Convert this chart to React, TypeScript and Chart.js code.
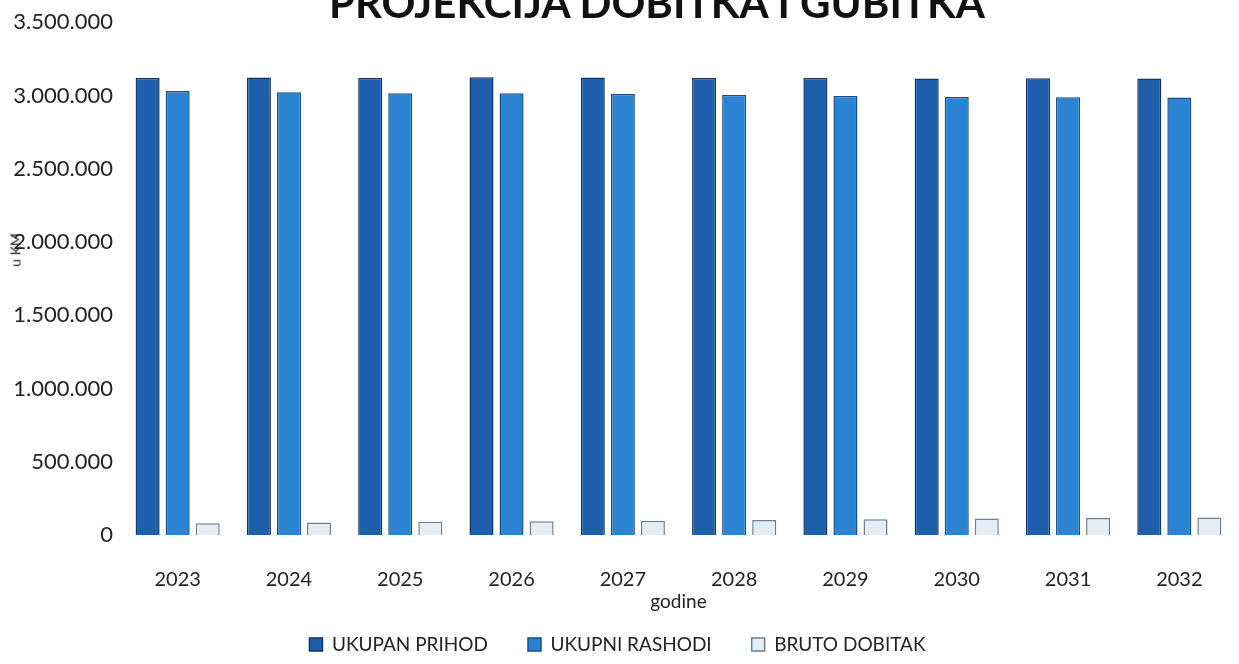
import React, { useEffect, useRef } from "react";
import { Chart, registerables } from "chart.js";

Chart.register(...registerables);

const chartTitle = "PROJEKCIJA DOBITKA I GUBITKA";
const yAxisTitle = "u KM";
const xAxisTitle = "godine";
const years = ["2023", "2024", "2025", "2026", "2027", "2028", "2029", "2030", "2031", "2032"];
const seriesNames = ["UKUPAN PRIHOD", "UKUPNI RASHODI", "BRUTO DOBITAK"];
const ukupanPrihod = [3120000, 3122000, 3120000, 3125000, 3122000, 3120000, 3119000, 3115000, 3117000, 3116000];
const ukupniRashodi = [3030000, 3022000, 3015000, 3015000, 3010000, 3003000, 2996000, 2990000, 2988000, 2986000];
const brutoDobitak = [80000, 85000, 90000, 94000, 98000, 103000, 108000, 112000, 116000, 120000];
const yMax = 3500000;
const yStep = 500000;

function formatThousands(v: number): string {
  return String(Math.round(v)).replace(/\B(?=(\d{3})+(?!\d))/g, ".");
}

export default function App() {
  const canvasRef = useRef<HTMLCanvasElement | null>(null);

  useEffect(() => {
    let chart: Chart | null = null;
    let cancelled = false;
    const make = () => {
      if (cancelled || !canvasRef.current) return;
      chart = new Chart(canvasRef.current, {
        type: "bar",
        data: {
          labels: years,
          datasets: [
            {
              label: seriesNames[0],
              data: ukupanPrihod,
              backgroundColor: "#1f5fab",
              borderColor: "#0d3566",
              borderWidth: 1.5,
            },
            {
              label: seriesNames[1],
              data: ukupniRashodi,
              backgroundColor: "#2a84d3",
              borderColor: "#154f8e",
              borderWidth: 1.5,
            },
            {
              label: seriesNames[2],
              data: brutoDobitak,
              backgroundColor: "#e3edf5",
              borderColor: "#6f7f90",
              borderWidth: 1.5,
            },
          ],
        },
        options: {
          responsive: false,
          animation: false,
          layout: { padding: { top: 10, right: 4, left: 0, bottom: 0 } },
          datasets: { bar: { categoryPercentage: 0.81, barPercentage: 0.8 } },
          plugins: {
            legend: {
              position: "bottom",
              labels: {
                font: { family: "Lato", size: 19 },
                color: "#222",
                boxWidth: 13,
                boxHeight: 13,
                padding: 40,
              },
            },
            title: { display: false },
            tooltip: { enabled: false },
          },
          scales: {
            x: {
              grid: { display: false, drawTicks: false },
              border: { display: false },
              ticks: {
                font: { family: "Lato", size: 20 },
                color: "#222",
                padding: 33,
                maxRotation: 0,
                autoSkip: false,
              },
              title: {
                display: true,
                text: xAxisTitle,
                font: { family: "Lato", size: 19 },
                color: "#222",
                padding: { top: 0, bottom: -18 },
              },
              afterFit: (s: any) => {
                s.height = 60;
              },
            },
            y: {
              min: 0,
              max: yMax,
              ticks: {
                stepSize: yStep,
                callback: (v: any) => formatThousands(Number(v)),
                font: { family: "Lato", size: 22 },
                color: "#222",
                padding: 9,
              },
              grid: { display: false, drawTicks: false },
              border: { display: false },
              afterFit: (s: any) => {
                s.width = 122;
              },
            },
          },
        },
      });
    };
    const fontsReady = (document as any).fonts
      ? Promise.all([
          (document as any).fonts.load("20px Lato"),
          (document as any).fonts.load("bold 40px Lato"),
        ]).catch(() => null)
      : Promise.resolve(null);
    fontsReady.then(make);
    return () => {
      cancelled = true;
      if (chart) chart.destroy();
    };
  }, []);

  return (
    <div
      style={{
        position: "fixed",
        left: 0,
        top: 0,
        width: 1239,
        height: 664,
        overflow: "hidden",
        background: "#ffffff",
      }}
    >
      <canvas ref={canvasRef} width={1239} height={664} style={{ position: "absolute", left: 0, top: 0 }} />
      <div
        style={{
          position: "absolute",
          right: 254,
          top: -19,
          fontFamily: "Lato, sans-serif",
          fontWeight: 700,
          fontSize: 42,
          lineHeight: "42px",
          whiteSpace: "nowrap",
          color: "#111",
        }}
      >
        {chartTitle}
      </div>
      <div
        style={{
          position: "absolute",
          left: 15,
          top: 250,
          transform: "translate(-50%, -50%) rotate(-90deg)",
          fontFamily: "Lato, sans-serif",
          fontSize: 14,
          whiteSpace: "nowrap",
          color: "#222",
        }}
      >
        {yAxisTitle}
      </div>
    </div>
  );
}
